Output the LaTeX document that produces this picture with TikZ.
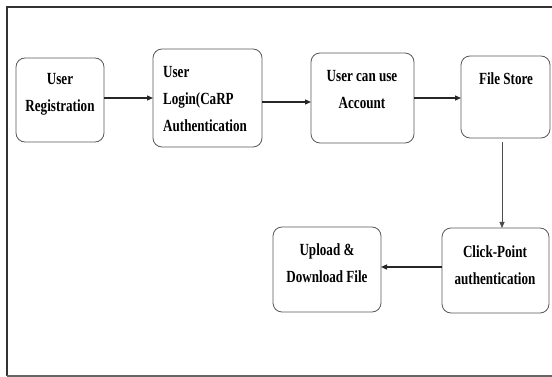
\documentclass[tikz,border=0pt]{standalone}
\usepackage{fontspec}
\newfontfamily\boxfont[FakeStretch=0.77]{Liberation Serif}
\usepackage{tikz}
\usetikzlibrary{arrows.meta}
\tikzset{roundbox/.style={shape=rectangle, rounded corners=9pt, draw=black!65, line width=0.8pt, inner sep=0pt, outer sep=0pt},
boxtext/.style={font=\boxfont\bfseries\fontsize{17}{27}\selectfont, inner sep=0pt},
flowarrow/.style={-{Triangle[length=6pt,width=5pt]}, line width=1.3pt, black!85}}

\begin{document}
\begin{tikzpicture}[x=1pt,y=-1pt]
\useasboundingbox (0,0) rectangle (552,377);
\draw[line width=1.6pt, black!80] (552,7) -- (7,7) -- (7,376);
\draw[line width=1.2pt, black!60] (7,376) -- (552,376);
\node[style=roundbox, minimum width=88pt, minimum height=84pt] (b1) at (60,100) {};
\node[style=roundbox, minimum width=109pt, minimum height=98pt] (b2) at (207.5,98) {};
\node[style=roundbox, minimum width=103pt, minimum height=90pt] (b3) at (362.5,98) {};
\node[style=roundbox, minimum width=89pt, minimum height=82pt] (b4) at (505.5,97) {};
\node[style=roundbox, minimum width=107pt, minimum height=85pt] (b5) at (495.5,270.5) {};
\node[style=roundbox, minimum width=108pt, minimum height=85pt] (b6) at (327,269.5) {};
\node[style=boxtext, align=center] (t1) at (60,94) {User\\Registration};
\node[style=boxtext, align=left, anchor=west] (t2) at (163,99.5) {User\\Login(CaRP\\Authentication};
\node[style=boxtext, align=center] (t3) at (362,89.5) {User can use\\Account};
\node[style=boxtext] (t4) at (506,79) {File Store};
\node[style=boxtext, align=center] (t5) at (495,265) {Click-Point\\authentication};
\node[style=boxtext, align=center] (t6) at (327,263.5) {Upload \&\\Download File};
\draw[style=flowarrow] ([yshift=2pt]b1.east) -- (b2.west);
\draw[style=flowarrow] ([yshift=-4pt]b2.east) -- ([yshift=-4pt]b3.west);
\draw[style=flowarrow] (b3.east) -- ([yshift=-1pt]b4.west);
\draw[style=flowarrow, line width=0.8pt, black!70] ([xshift=-3.5pt,yshift=-4pt]b4.south) -- ([xshift=-3.5pt]b4.south |- b5.north);
\draw[style=flowarrow] ([yshift=3.5pt]b5.west) -- ([yshift=2.5pt]b6.east);
\end{tikzpicture}
\end{document}
